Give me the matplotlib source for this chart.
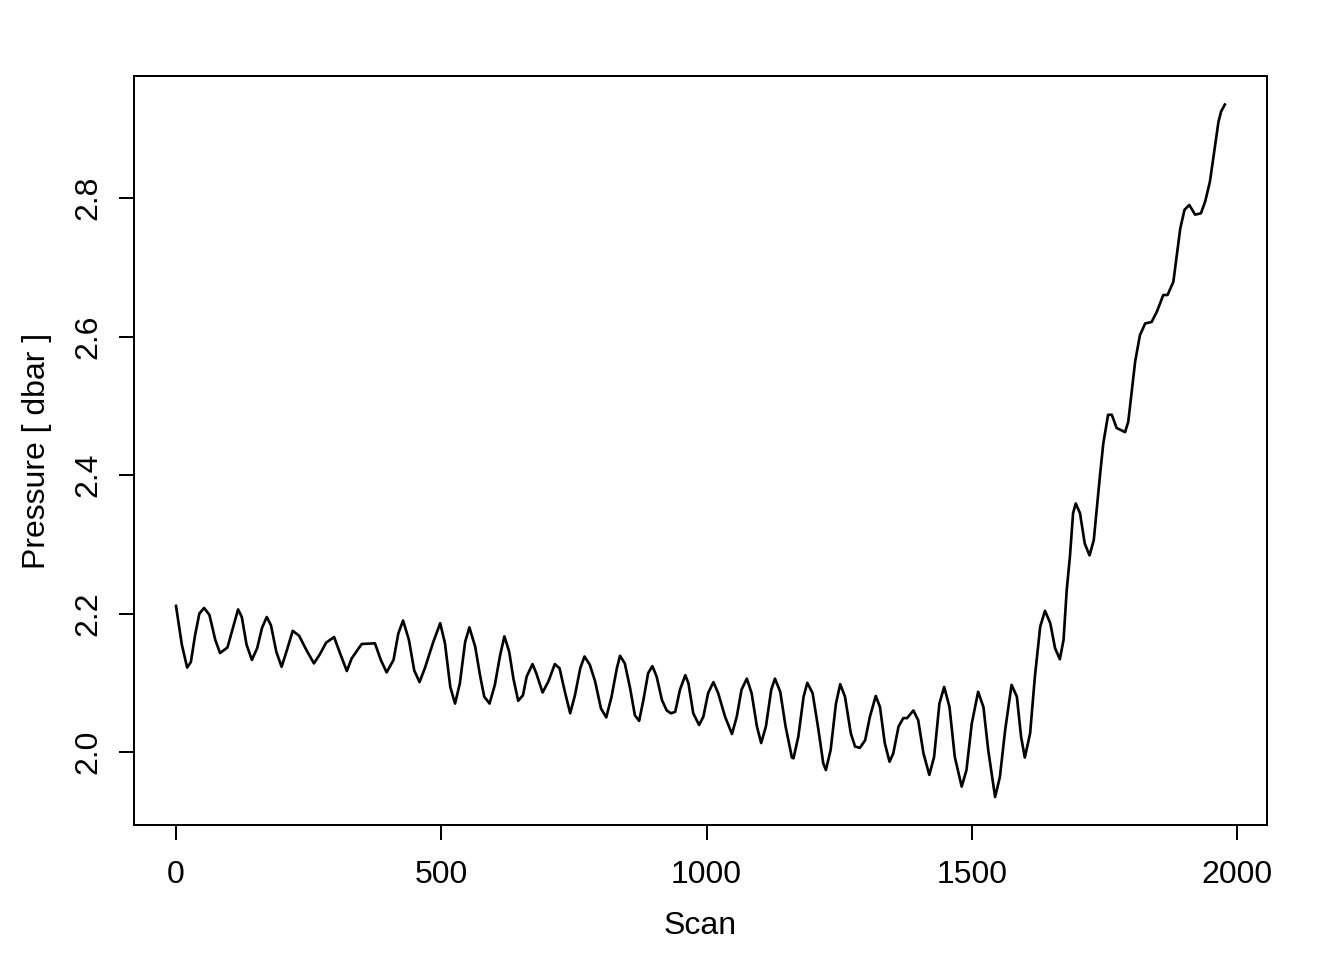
import numpy as np
import matplotlib
matplotlib.use("Agg")
import matplotlib.pyplot as plt

# points
scan = [0, 11, 21, 28, 36, 44, 53, 63, 74, 83, 97, 108, 117, 124, 133, 143,
        153, 162, 171, 179, 189, 199, 209, 220, 232, 246, 260, 271, 283, 298,
        309, 322, 331, 350, 375, 386, 397, 410, 419, 428, 439, 449, 459, 469,
        485, 498, 507, 517, 526, 535, 545, 553, 564, 573, 581, 591, 601, 611,
        619, 628, 636, 645, 654, 661, 672, 679, 691, 702, 714, 723, 733, 743,
        752, 762, 770, 780, 790, 801, 811, 821, 831, 837, 846, 856, 865, 873,
        881, 890, 898, 906, 916, 925, 933, 941, 950, 960, 966, 975, 986, 994,
        1003, 1013, 1022, 1035, 1048, 1057, 1066, 1076, 1085, 1095, 1103, 1112,
        1122, 1129, 1139, 1149, 1161, 1164, 1173, 1183, 1190, 1200, 1211, 1220,
        1225, 1234, 1244, 1252, 1261, 1272, 1280, 1289, 1299, 1308, 1319, 1327,
        1336, 1345, 1352, 1362, 1371, 1378, 1390, 1399, 1409, 1420, 1429, 1439,
        1448, 1458, 1468, 1481, 1490, 1500, 1512, 1522, 1531, 1544, 1553, 1563,
        1575, 1585, 1593, 1600, 1610, 1619, 1629, 1638, 1648, 1657, 1666, 1673,
        1679, 1685, 1691, 1696, 1704, 1713, 1722, 1730, 1742, 1748, 1757, 1764,
        1773, 1789, 1795, 1808, 1817, 1827, 1839, 1849, 1861, 1869, 1880, 1893,
        1901, 1910, 1921, 1932, 1940, 1949, 1965, 1970, 1977]
pressure = [2.211, 2.155, 2.122, 2.130, 2.169, 2.200, 2.208, 2.198, 2.162, 2.143,
            2.151, 2.181, 2.206, 2.195, 2.155, 2.133, 2.150, 2.179, 2.195, 2.183,
            2.145, 2.123, 2.147, 2.175, 2.168, 2.147, 2.128, 2.141, 2.158, 2.166,
            2.143, 2.117, 2.135, 2.156, 2.157, 2.133, 2.115, 2.133, 2.171, 2.190,
            2.162, 2.118, 2.101, 2.121, 2.159, 2.186, 2.157, 2.094, 2.070, 2.099,
            2.159, 2.180, 2.152, 2.111, 2.080, 2.070, 2.097, 2.140, 2.167, 2.145,
            2.106, 2.074, 2.082, 2.109, 2.127, 2.114, 2.086, 2.102, 2.127, 2.121,
            2.087, 2.056, 2.082, 2.121, 2.138, 2.126, 2.102, 2.063, 2.050, 2.080,
            2.121, 2.139, 2.128, 2.092, 2.053, 2.045, 2.075, 2.114, 2.124, 2.109,
            2.075, 2.060, 2.056, 2.058, 2.090, 2.111, 2.099, 2.056, 2.039, 2.051,
            2.085, 2.101, 2.085, 2.051, 2.026, 2.051, 2.090, 2.106, 2.085, 2.037,
            2.013, 2.037, 2.090, 2.106, 2.087, 2.037, 1.992, 1.991, 2.022, 2.080,
            2.100, 2.085, 2.032, 1.984, 1.974, 2.003, 2.070, 2.098, 2.080, 2.027,
            2.008, 2.006, 2.017, 2.051, 2.081, 2.065, 2.013, 1.986, 1.998, 2.037,
            2.049, 2.049, 2.060, 2.046, 1.998, 1.967, 1.993, 2.070, 2.094, 2.065,
            1.993, 1.950, 1.974, 2.041, 2.087, 2.065, 2.003, 1.935, 1.964, 2.032,
            2.097, 2.080, 2.022, 1.992, 2.027, 2.109, 2.181, 2.204, 2.186, 2.150,
            2.134, 2.162, 2.234, 2.282, 2.345, 2.359, 2.345, 2.301, 2.284, 2.306,
            2.402, 2.446, 2.487, 2.487, 2.468, 2.462, 2.477, 2.564, 2.602, 2.619,
            2.621, 2.636, 2.660, 2.660, 2.679, 2.756, 2.783, 2.790, 2.776, 2.778,
            2.795, 2.824, 2.910, 2.925, 2.935]

xticks = [0, 500, 1000, 1500, 2000]
yticks = [2.0, 2.2, 2.4, 2.6, 2.8]

plt.rcParams['font.family'] = ['Liberation Sans', 'DejaVu Sans']
plt.rcParams['font.size'] = 12

fig = plt.figure(figsize=(7, 5), dpi=192)
ax = fig.add_axes([0.0997, 0.1406, 0.843, 0.7802])
ax.plot(scan, pressure, color='black', lw=1.0)

ax.set_xlim(-79.2, 2056.5)
ax.set_ylim(1.8946, 2.9762)
ax.set_xticks(xticks)
ax.set_xticklabels([str(t) for t in xticks])
ax.set_yticks(yticks)
ax.set_yticklabels(['%.1f' % t for t in yticks], rotation=90, va='center')
ax.tick_params(direction='out', length=5.6, width=0.75)
ax.tick_params(axis='x', pad=7.5)
ax.tick_params(axis='y', pad=6)
for s in ax.spines.values():
    s.set_linewidth(0.75)

ax.set_xlabel('Scan', labelpad=8)
ax.set_ylabel('Pressure [ dbar ]', labelpad=8)

fig.savefig('out.png', dpi=192)
